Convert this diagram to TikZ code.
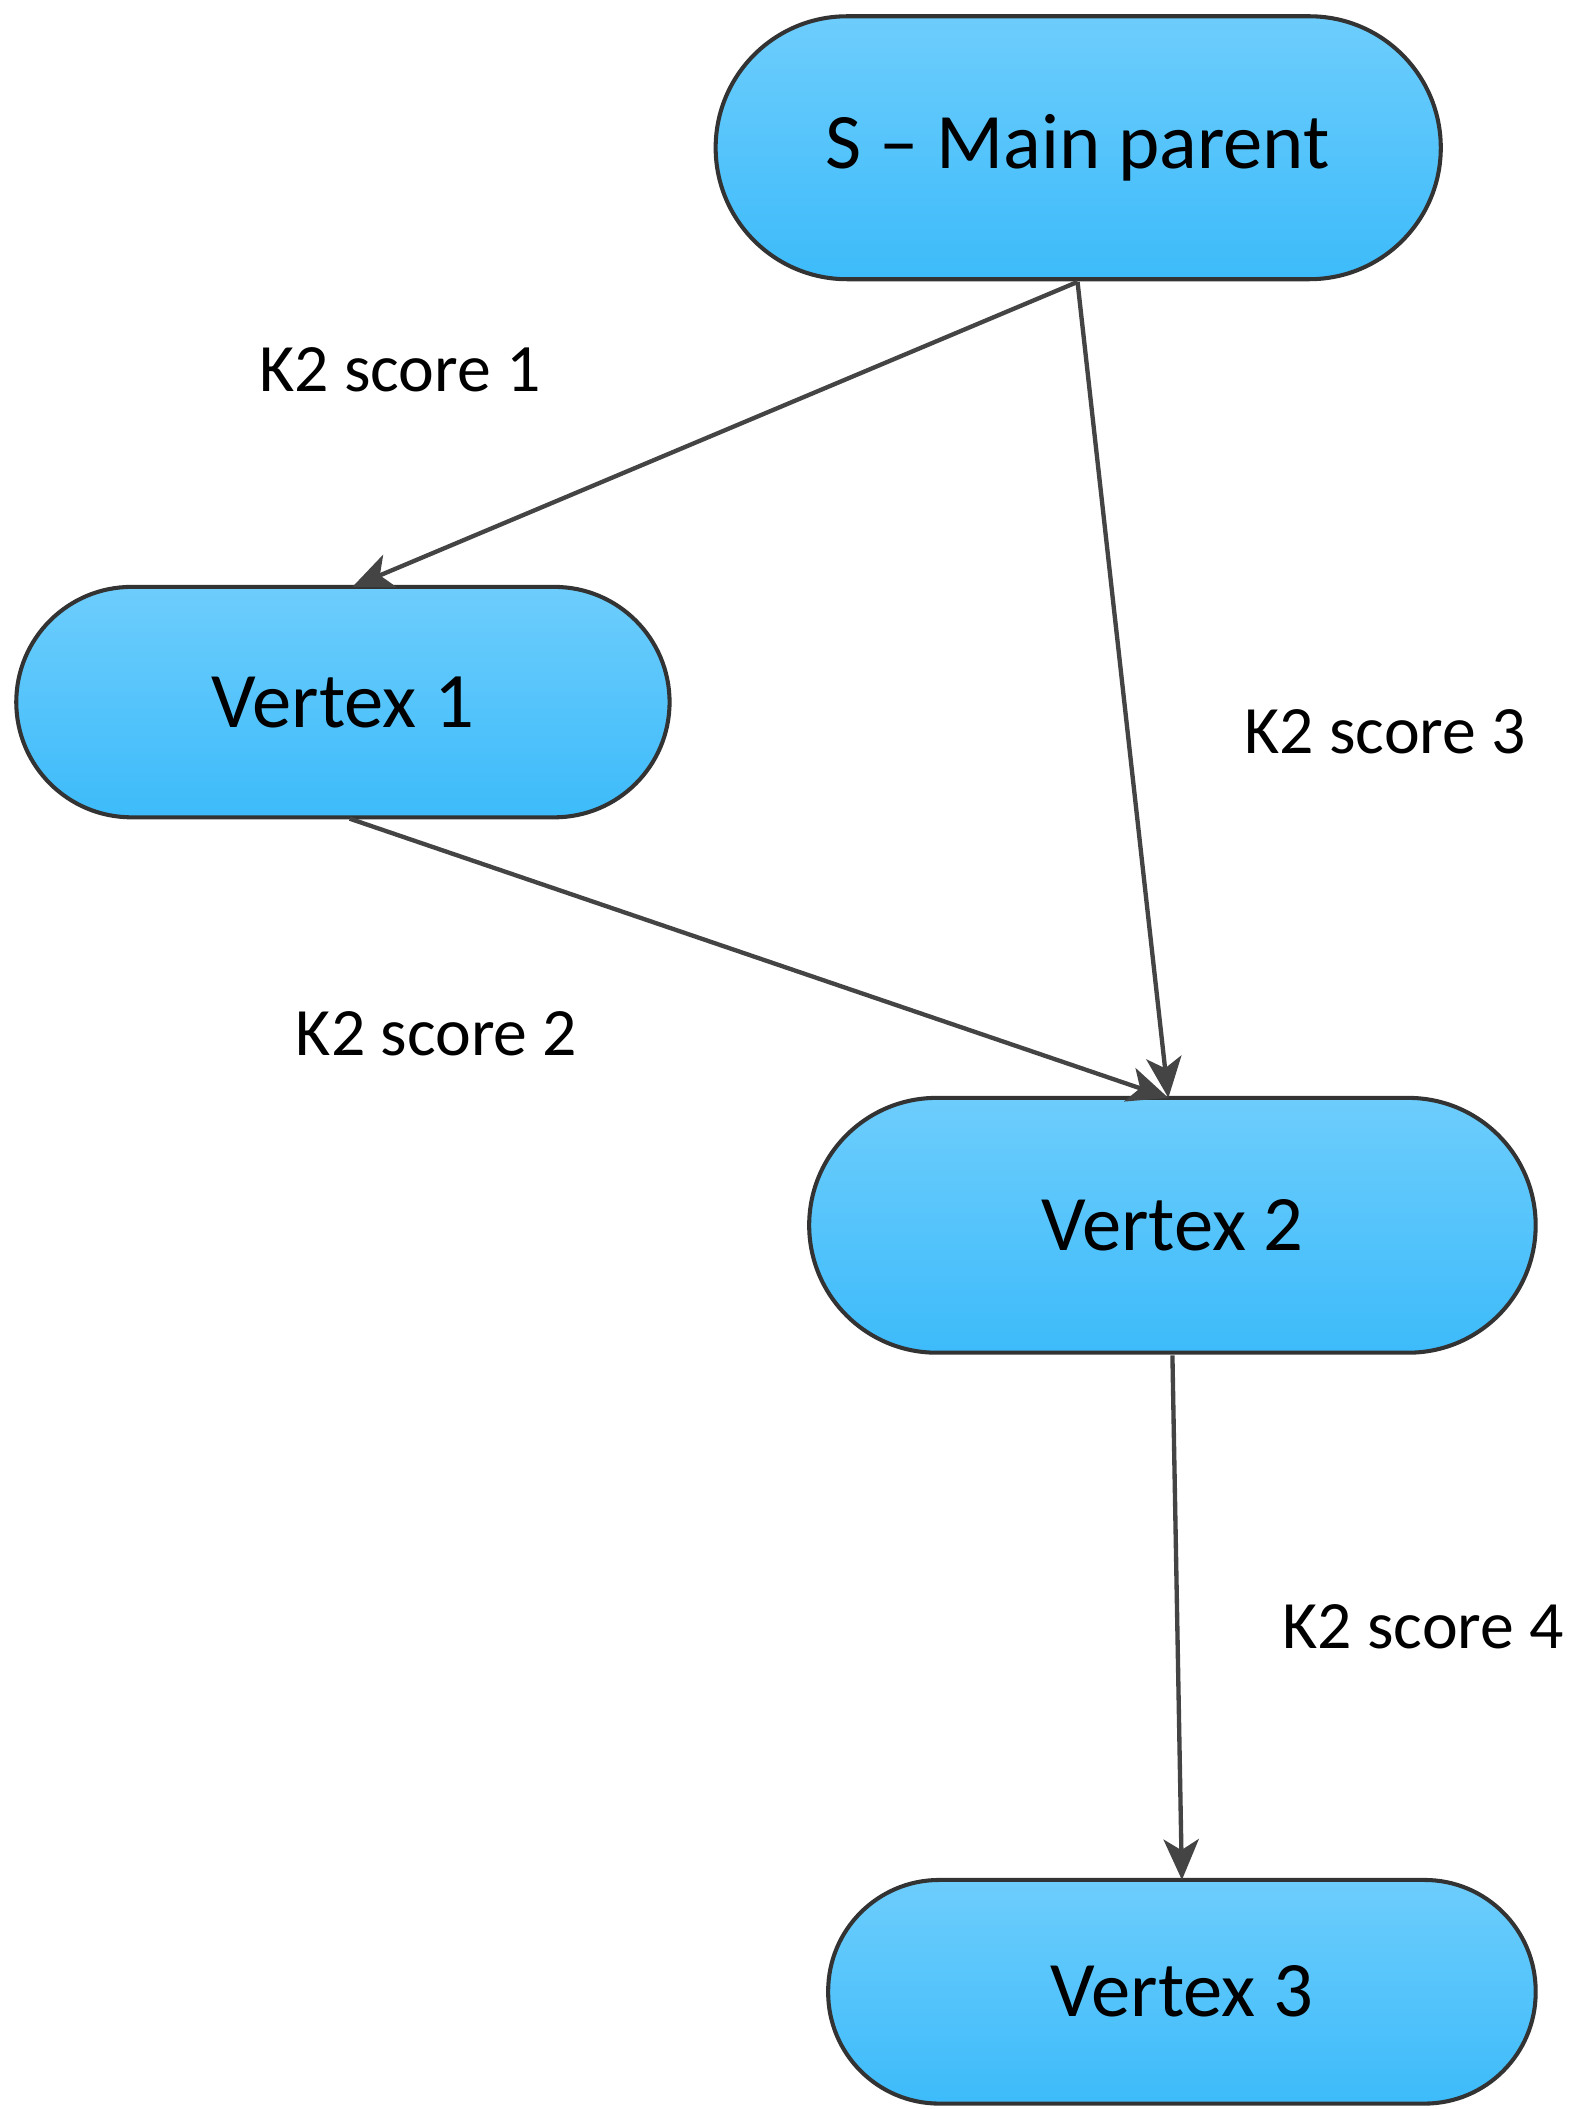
\documentclass[tikz,border=0pt]{standalone}
\usepackage{fontspec}
\setmainfont{Carlito}
\usetikzlibrary{arrows.meta}
\definecolor{bord}{HTML}{333333}
\definecolor{ftop}{HTML}{6DCDFC}
\definecolor{fbot}{HTML}{3DBBFA}
\definecolor{ln}{HTML}{444444}
\begin{document}
\begin{tikzpicture}[x=1pt,y=-1pt,
  box/.style={draw=bord,line width=3pt,top color=ftop,bottom color=fbot},
  txt/.style={font=\fontsize{58}{64}\selectfont,text=black},
  lab/.style={font=\fontsize{50}{56}\selectfont,text=black},
  arr/.style={draw=ln,line width=3.2pt,-{Stealth[length=30pt,width=26pt,inset=8pt]}}]
\useasboundingbox (0,0) rectangle (1166,1556);
\path[box,rounded corners=97pt] (528,12) rectangle (1063,206);
\node[txt] (s) at (795,109) {S -- Main parent};
\path[box,rounded corners=85pt] (12,433) rectangle (494,603);
\node[txt] (v1) at (253,518) {Vertex 1};
\path[box,rounded corners=94pt] (597,810) rectangle (1133,998);
\node[txt] (v2) at (865,904) {Vertex 2};
\path[box,rounded corners=82pt] (611,1387) rectangle (1133,1552);
\node[txt] (v3) at (872,1469) {Vertex 3};
\coordinate (sb) at (795,208);
\coordinate (v1t) at (260,433);
\coordinate (v1b) at (258,604);
\coordinate (v2t) at (862,810);
\coordinate (v2b) at (865,1000);
\coordinate (v3t) at (872,1387);
\draw[arr] (sb) -- (v1t);
\draw[arr] (sb) -- (v2t);
\draw[arr] (v1b) -- (v2t);
\draw[arr] (v2b) -- (v3t);
\node[lab] (l1) at (295,273) {K2 score 1};
\node[lab] (l3) at (1022,540) {K2 score 3};
\node[lab] (l2) at (322,763) {K2 score 2};
\node[lab] (l4) at (1050,1200) {K2 score 4};
\end{tikzpicture}
\end{document}
